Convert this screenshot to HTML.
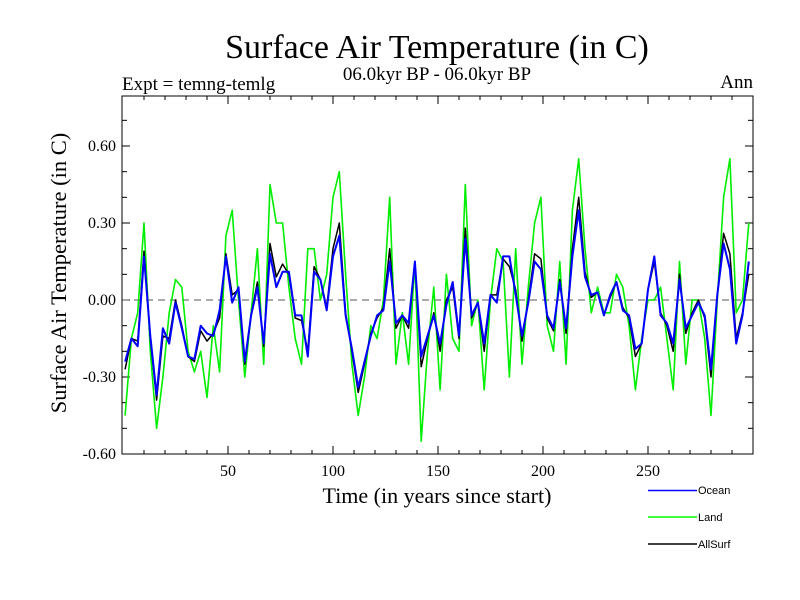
<!DOCTYPE html>
<html><head><meta charset="utf-8"><style>
body{margin:0;background:#fff;}
svg{display:block;}
text{font-family:"Liberation Serif",serif;fill:#000;}
.leg{font-family:"Liberation Sans",sans-serif;font-size:11px;}
</style></head><body>
<svg id="chart" width="800" height="600">
<text x="437" y="58" font-size="34" text-anchor="middle">Surface Air Temperature (in C)</text>
<text x="122" y="90" font-size="19">Expt = temng-temlg</text>
<text x="437" y="80" font-size="19" text-anchor="middle">06.0kyr BP - 06.0kyr BP</text>
<text x="753" y="88" font-size="19" text-anchor="end">Ann</text>
<text x="437" y="503" font-size="22" text-anchor="middle">Time (in years since start)</text>
<text transform="translate(66,273) rotate(-90)" font-size="22.5" text-anchor="middle">Surface Air Temperature (in C)</text>
<g id="ticks"></g>
<line x1="122" x2="753" y1="300" y2="300" stroke="#777" stroke-width="1.3" stroke-dasharray="7,5"/>
<g id="series"></g>
<rect x="122" y="96" width="631" height="358" fill="none" stroke="#000" stroke-width="1"/>
<g>
<g><line x1="648" x2="697" y1="490.5" y2="490.5" stroke="#00f" stroke-width="1.5"/><text class="leg" x="698" y="494">Ocean</text></g>
<g><line x1="648" x2="697" y1="517" y2="517" stroke="#0f0" stroke-width="1.5"/><text class="leg" x="698" y="521">Land</text></g>
<g><line x1="648" x2="697" y1="544" y2="544" stroke="#000" stroke-width="1.5"/><text class="leg" x="698" y="548">AllSurf</text></g>
</g>
</svg>
<script>
const ocean=[-0.24,-0.15,-0.18,0.17,-0.14,-0.37,-0.11,-0.17,-0.01,-0.11,-0.22,-0.23,-0.10,-0.13,-0.14,-0.04,0.17,
-0.01,0.05,-0.24,-0.06,0.05,-0.17,0.18,0.05,0.11,0.11,-0.06,-0.06,-0.22,0.11,0.08,-0.04,0.17,
0.25,-0.06,-0.19,-0.34,-0.24,-0.14,-0.06,-0.04,0.15,-0.09,-0.06,-0.09,0.15,-0.22,-0.14,-0.06,
-0.17,-0.02,0.07,-0.14,0.24,-0.06,-0.01,-0.17,0.02,-0.01,0.17,0.17,0.02,-0.14,-0.01,0.15,0.12,
-0.06,-0.11,0.07,-0.11,0.17,0.35,0.09,0.02,0.03,-0.06,0.02,0.07,-0.04,-0.06,-0.19,-0.17,0.04,
0.17,-0.06,-0.09,-0.17,0.08,-0.11,-0.06,-0.01,-0.06,-0.27,0.02,0.22,0.12,-0.17,-0.06,0.15];
const land=[-0.45,-0.15,-0.05,0.30,-0.20,-0.50,-0.30,-0.05,0.08,0.05,-0.20,-0.28,-0.20,-0.38,-0.10,-0.28,0.25,
0.35,0.00,-0.30,-0.05,0.20,-0.25,0.45,0.30,0.30,0.05,-0.15,-0.25,0.20,0.20,0.00,0.10,0.40,
0.50,0.10,-0.25,-0.45,-0.30,-0.10,-0.15,0.00,0.40,-0.25,-0.05,-0.25,0.15,-0.55,-0.20,0.05,
-0.35,0.10,-0.15,-0.20,0.45,-0.10,0.00,-0.35,0.00,0.20,0.15,-0.30,0.20,-0.25,0.05,0.30,0.40,
-0.10,-0.20,0.15,-0.25,0.35,0.55,0.20,-0.05,0.05,-0.05,-0.05,0.10,0.05,-0.10,-0.35,-0.15,0.00,
0.00,0.05,-0.15,-0.35,0.15,-0.25,0.00,0.00,-0.15,-0.45,0.00,0.40,0.55,-0.05,0.00,0.30];
const allsurf=[-0.27,-0.15,-0.16,0.19,-0.15,-0.39,-0.14,-0.15,0.00,-0.10,-0.22,-0.24,-0.12,-0.16,-0.13,-0.07,0.18,
0.02,0.04,-0.25,-0.06,0.07,-0.18,0.22,0.09,0.14,0.10,-0.07,-0.08,-0.20,0.13,0.08,-0.03,0.20,
0.30,-0.05,-0.20,-0.36,-0.25,-0.13,-0.07,-0.03,0.20,-0.11,-0.06,-0.11,0.15,-0.26,-0.15,-0.05,
-0.20,0.00,0.05,-0.15,0.28,-0.07,-0.01,-0.20,0.02,0.02,0.16,0.13,0.04,-0.16,0.00,0.18,0.16,
-0.07,-0.12,0.08,-0.13,0.20,0.40,0.11,0.01,0.03,-0.06,0.01,0.07,-0.03,-0.07,-0.22,-0.17,0.04,
0.15,-0.05,-0.10,-0.20,0.10,-0.13,-0.05,0.00,-0.07,-0.30,0.02,0.26,0.18,-0.15,-0.05,0.10];
const years=ocean.map((d,i)=>1+3*i);
const yTickLabels=["-0.60","-0.30","0.00","0.30","0.60"];
const xTickLabels=["50","100","150","200","250"];

const X0=122,X1=753,Y0=96,Y1=454;
const xs=v=>123+(v)*2.1;
const ys=v=>300-v*(77/0.3);
const NS="http://www.w3.org/2000/svg";
const tg=document.getElementById('ticks');
function ln(x1,y1,x2,y2){const l=document.createElementNS(NS,'line');l.setAttribute('x1',x1);l.setAttribute('y1',y1);l.setAttribute('x2',x2);l.setAttribute('y2',y2);l.setAttribute('stroke','#000');l.setAttribute('stroke-width','1');tg.appendChild(l);return l;}
for(let t=-6;t<=7;t++){const y=ys(t/10);const L=(t%3===0)?8:5;ln(X0,y,X0+L,y);ln(X1,y,X1-L,y);}
yTickLabels.forEach(s=>{const t=document.createElementNS(NS,'text');t.setAttribute('x',X0-6);t.setAttribute('y',ys(parseFloat(s))+5);t.setAttribute('font-size','16');t.setAttribute('text-anchor','end');t.textContent=s;


tg.appendChild(t);});
for(let v=10;v<300;v+=10){const x=xs(v);const L=(v%50===0)?8:4;ln(x,Y1,x,Y1-L);ln(x,Y0,x,Y0+L);}
xTickLabels.forEach(s=>{const t=document.createElementNS(NS,'text');t.setAttribute('x',xs(parseFloat(s)));t.setAttribute('y',Y1+22);t.setAttribute('font-size','16');t.setAttribute('text-anchor','middle');t.textContent=s;


tg.appendChild(t);});
const sg=document.getElementById('series');
function draw(arr,color,w,name){const p=document.createElementNS(NS,'polyline');
p.setAttribute('points',arr.map((v,i)=>xs(years[i]).toFixed(1)+','+ys(v).toFixed(1)).join(' '));
p.setAttribute('fill','none');p.setAttribute('stroke',color);p.setAttribute('stroke-width',w);p.setAttribute('stroke-linejoin','round');


sg.appendChild(p);}
draw(land,'#00ee00',1.6,'land-line');
draw(allsurf,'#000',1.5,'allsurf-line');
draw(ocean,'#0000ff',2,'ocean-line');
</script>
</body></html>
